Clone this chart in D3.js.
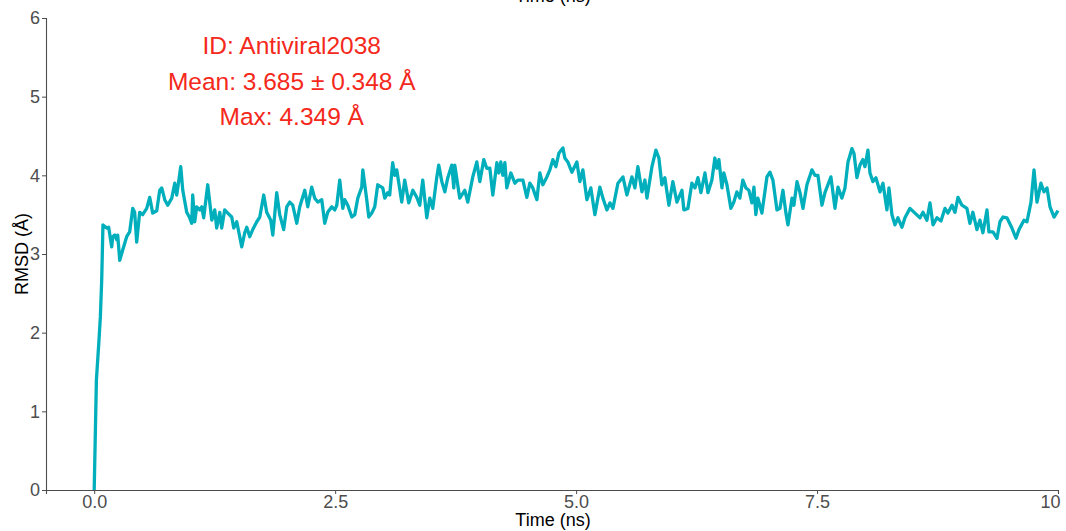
<!DOCTYPE html>
<html>
<head>
<meta charset="utf-8">
<script src="https://cdn.jsdelivr.net/npm/d3@7"></script>
<style>
  html, body { margin: 0; padding: 0; background: #ffffff; }
  svg { display: block; font-family: "Liberation Sans", Arial, Helvetica, sans-serif; }
</style>
</head>
<body>
<svg id="chart" width="1066" height="531"></svg>
<script>
// RMSD trajectory of Antiviral2038 over a 10 ns simulation
const timeNs = [
  0, 0.023, 0.050, 0.064, 0.078, 0.091, 0.130, 0.150, 0.182, 0.192,
  0.213, 0.234, 0.244, 0.265, 0.296, 0.337, 0.368, 0.400, 0.420, 0.441,
  0.472, 0.503, 0.545, 0.576, 0.607, 0.649, 0.680, 0.701, 0.732, 0.763,
  0.805, 0.836, 0.856, 0.867, 0.898, 0.919, 0.960, 0.991, 1.012, 1.022,
  1.043, 1.064, 1.095, 1.116, 1.136, 1.178, 1.220, 1.251, 1.271, 1.303,
  1.323, 1.354, 1.386, 1.427, 1.448, 1.479, 1.510, 1.531, 1.562, 1.583,
  1.614, 1.645, 1.687, 1.718, 1.759, 1.790, 1.832, 1.853, 1.894, 1.925,
  1.966, 1.998, 2.029, 2.060, 2.102, 2.133, 2.185, 2.216, 2.257, 2.288,
  2.320, 2.361, 2.392, 2.423, 2.465, 2.496, 2.517, 2.548, 2.579, 2.600,
  2.631, 2.673, 2.704, 2.735, 2.776, 2.787, 2.828, 2.849, 2.880, 2.911,
  2.942, 2.994, 3.015, 3.046, 3.066, 3.097, 3.118, 3.139, 3.191, 3.222,
  3.264, 3.306, 3.347, 3.378, 3.409, 3.451, 3.482, 3.513, 3.555, 3.575,
  3.607, 3.638, 3.669, 3.710, 3.731, 3.741, 3.793, 3.845, 3.876, 3.928,
  3.970, 4.001, 4.042, 4.073, 4.105, 4.136, 4.178, 4.198, 4.219, 4.240,
  4.261, 4.281, 4.323, 4.365, 4.396, 4.448, 4.489, 4.520, 4.551, 4.593,
  4.624, 4.655, 4.697, 4.728, 4.759, 4.790, 4.821, 4.863, 4.883, 4.914,
  4.956, 5.008, 5.039, 5.070, 5.112, 5.153, 5.195, 5.247, 5.278, 5.320,
  5.351, 5.382, 5.434, 5.486, 5.527, 5.579, 5.610, 5.641, 5.683, 5.714,
  5.735, 5.787, 5.828, 5.859, 5.890, 5.921, 5.963, 6.004, 6.046, 6.098,
  6.118, 6.160, 6.201, 6.233, 6.264, 6.295, 6.337, 6.368, 6.409, 6.440,
  6.461, 6.482, 6.513, 6.533, 6.565, 6.606, 6.637, 6.668, 6.699, 6.730,
  6.762, 6.793, 6.824, 6.845, 6.865, 6.886, 6.928, 6.980, 7.011, 7.042,
  7.084, 7.115, 7.146, 7.177, 7.198, 7.240, 7.260, 7.292, 7.323, 7.354,
  7.395, 7.447, 7.478, 7.509, 7.551, 7.582, 7.644, 7.686, 7.717, 7.758,
  7.790, 7.821, 7.862, 7.883, 7.914, 7.945, 7.976, 7.997, 8.028, 8.049,
  8.080, 8.111, 8.153, 8.184, 8.225, 8.246, 8.277, 8.308, 8.339, 8.381,
  8.412, 8.464, 8.516, 8.568, 8.599, 8.640, 8.672, 8.703, 8.744, 8.786,
  8.827, 8.858, 8.900, 8.931, 8.962, 9.003, 9.055, 9.086, 9.117, 9.159,
  9.190, 9.221, 9.263, 9.283, 9.325, 9.367, 9.398, 9.429, 9.470, 9.522,
  9.564, 9.595, 9.647, 9.678, 9.720, 9.751, 9.782, 9.823, 9.855, 9.886,
  9.917, 9.959, 10.000
];

const rmsd = [
  0.00, 1.40, 1.91, 2.20, 2.67, 3.37, 3.33, 3.34, 3.09, 3.22,
  3.24, 3.18, 3.24, 2.92, 3.05, 3.22, 3.28, 3.58, 3.53, 3.15,
  3.53, 3.50, 3.58, 3.72, 3.52, 3.55, 3.81, 3.84, 3.69, 3.62,
  3.71, 3.90, 3.75, 3.84, 4.11, 3.81, 3.53, 3.46, 3.39, 3.75,
  3.41, 3.60, 3.56, 3.60, 3.46, 3.88, 3.43, 3.56, 3.33, 3.53,
  3.33, 3.56, 3.52, 3.47, 3.33, 3.41, 3.22, 3.09, 3.27, 3.34,
  3.22, 3.31, 3.41, 3.47, 3.75, 3.53, 3.43, 3.24, 3.78, 3.50,
  3.31, 3.60, 3.66, 3.62, 3.39, 3.60, 3.81, 3.60, 3.85, 3.71,
  3.66, 3.69, 3.39, 3.53, 3.60, 3.56, 3.62, 3.94, 3.58, 3.69,
  3.62, 3.47, 3.50, 3.71, 3.85, 4.07, 3.69, 3.47, 3.52, 3.60,
  3.88, 3.84, 3.71, 3.78, 3.75, 4.16, 4.00, 4.07, 3.66, 3.94,
  3.65, 3.81, 3.72, 3.62, 3.94, 3.46, 3.71, 3.58, 3.98, 4.13,
  3.92, 3.79, 3.97, 4.13, 3.84, 4.13, 3.71, 3.81, 3.66, 3.98,
  4.17, 3.92, 4.20, 4.09, 4.09, 3.75, 4.16, 4.03, 4.17, 4.00,
  4.16, 3.84, 4.03, 3.90, 3.94, 3.94, 3.72, 3.90, 3.84, 3.69,
  4.03, 3.88, 3.98, 4.07, 4.20, 4.11, 4.28, 4.349, 4.22, 4.17,
  4.04, 4.17, 3.92, 4.07, 3.69, 3.84, 3.50, 3.85, 3.71, 3.56,
  3.65, 3.58, 3.90, 3.98, 3.75, 3.98, 3.84, 4.11, 3.79, 3.94,
  3.71, 4.11, 4.32, 4.22, 3.88, 3.97, 3.62, 3.92, 3.66, 3.81,
  3.56, 3.58, 3.90, 3.84, 3.97, 3.78, 4.03, 3.78, 3.94, 4.22,
  4.09, 4.20, 3.84, 4.03, 3.88, 3.58, 3.66, 3.79, 3.71, 3.94,
  3.84, 3.81, 3.65, 3.85, 3.50, 3.71, 3.52, 3.98, 4.04, 3.94,
  3.56, 3.58, 3.81, 3.52, 3.37, 3.71, 3.62, 3.92, 3.78, 3.58,
  3.88, 4.07, 4.00, 4.00, 3.62, 3.78, 3.98, 3.58, 3.85, 3.71,
  3.84, 4.17, 4.34, 4.28, 3.97, 4.13, 4.20, 4.11, 4.32, 4.03,
  3.92, 3.97, 3.79, 3.90, 3.56, 3.84, 3.50, 3.37, 3.46, 3.34,
  3.46, 3.58, 3.52, 3.46, 3.53, 3.43, 3.65, 3.37, 3.46, 3.42,
  3.58, 3.52, 3.62, 3.53, 3.72, 3.62, 3.58, 3.39, 3.53, 3.31,
  3.43, 3.27, 3.56, 3.28, 3.28, 3.20, 3.41, 3.47, 3.46, 3.33,
  3.20, 3.31, 3.43, 3.41, 3.66, 4.07, 3.66, 3.90, 3.79, 3.84,
  3.60, 3.47, 3.55
];

const xTicks = [0, 2.5, 5, 7.5, 10];
const xTickLabels = ["0.0", "2.5", "5.0", "7.5", "10"];
const yTicks = [0, 1, 2, 3, 4, 5, 6];
const annotationLines = ["ID: Antiviral2038", "Mean: 3.685 ± 0.348 Å", "Max: 4.349 Å"];

const svg = d3.select("#chart");
const plot = { left: 46, right: 1058, top: 18, bottom: 490 };

const x = d3.scaleLinear().domain([-0.5, 10]).range([plot.left, plot.right]);
const y = d3.scaleLinear().domain([0, 6]).range([plot.bottom, plot.top]);

const axisColor = "#4d4d4d";

// x axis
const gx = svg.append("g")
  .attr("transform", `translate(0,${plot.bottom})`)
  .call(d3.axisBottom(x)
    .tickValues(xTicks)
    .tickFormat((d, i) => xTickLabels[i])
    .tickSizeOuter(0)
    .tickSize(4)
    .tickPadding(1.5));
gx.select(".domain").attr("stroke", axisColor).attr("stroke-width", 1.1);
gx.selectAll(".tick line").attr("stroke", axisColor);
gx.selectAll(".tick text")
  .attr("fill", axisColor)
  .attr("font-size", 18)
  .attr("font-family", "Liberation Sans, Arial, sans-serif");
gx.selectAll(".tick text").filter(d => d === 10).attr("text-anchor", "end").attr("dx", 2);

// y axis
const gy = svg.append("g")
  .attr("transform", `translate(${plot.left},0)`)
  .call(d3.axisLeft(y)
    .tickValues(yTicks)
    .tickFormat(d3.format("d"))
    .tickSizeOuter(0)
    .tickSize(4)
    .tickPadding(2));
gy.select(".domain").attr("stroke", axisColor).attr("stroke-width", 1.1);
gy.selectAll(".tick line").attr("stroke", axisColor);
gy.selectAll(".tick text")
  .attr("fill", axisColor)
  .attr("font-size", 18)
  .attr("font-family", "Liberation Sans, Arial, sans-serif");

// axis titles (bottom, and the repeated one at the top edge)
svg.append("text")
  .attr("x", 553).attr("y", 526)
  .attr("text-anchor", "middle")
  .attr("font-size", 18)
  .attr("fill", "#000")
  .text("Time (ns)");

svg.append("text")
  .attr("x", 553).attr("y", 1.5)
  .attr("text-anchor", "middle")
  .attr("font-size", 18)
  .attr("fill", "#000")
  .text("Time (ns)");

svg.append("text")
  .attr("transform", `translate(28,${(plot.top + plot.bottom) / 2}) rotate(-90)`)
  .attr("text-anchor", "middle")
  .attr("font-size", 18)
  .attr("fill", "#000")
  .text("RMSD (Å)");

// RMSD trace
const series = timeNs.map((t, i) => ({ t, v: rmsd[i] }));
const line = d3.line().x(d => x(d.t)).y(d => y(d.v));
svg.append("path")
  .datum(series)
  .attr("fill", "none")
  .attr("stroke", "#00AFBB")
  .attr("stroke-width", 3.3)
  .attr("stroke-linejoin", "round")
  .attr("d", line);

// summary annotation
const anno = svg.append("text")
  .attr("text-anchor", "middle")
  .attr("font-size", 24.5)
  .attr("fill", "#f4291b");
annotationLines.forEach((s, i) => {
  anno.append("tspan")
    .attr("x", x(2.05))
    .attr("y", y(5.54) + i * 35.5)
    .text(s);
});
</script>
</body>
</html>
